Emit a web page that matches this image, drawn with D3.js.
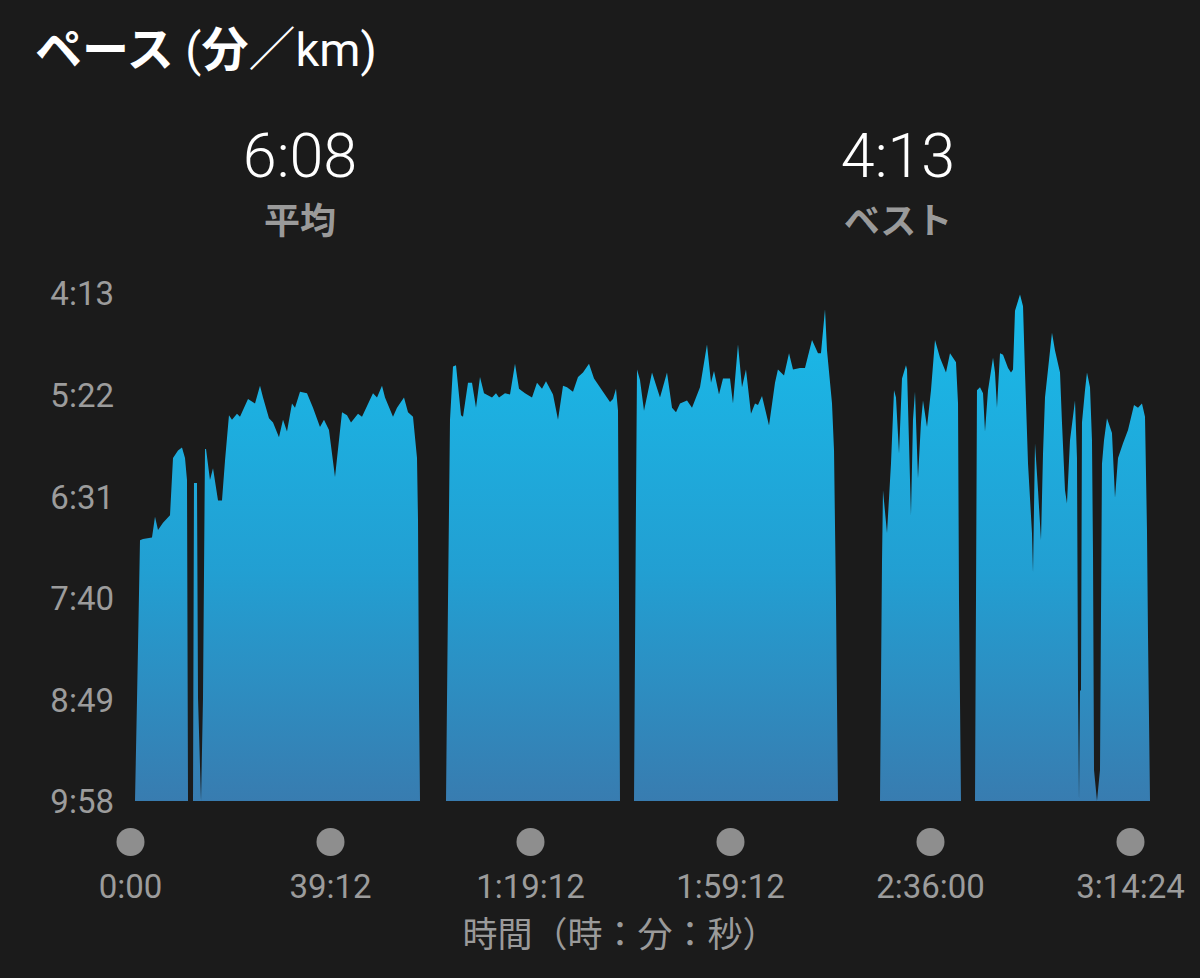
<!DOCTYPE html>
<html><head><meta charset="utf-8">
<script src="https://cdn.jsdelivr.net/npm/d3@7"></script>
<style>
html,body{margin:0;padding:0;background:#1b1b1b;}
svg{display:block;}
</style></head>
<body>
<script>
// ---- data ----
const timeTicks = [0, 39.2, 79.2, 119.2, 156, 194.4]; // minutes
const timeLabels = ["0:00", "39:12", "1:19:12", "1:59:12", "2:36:00", "3:14:24"];
const paceTicks = [253, 322, 391, 460, 529, 598]; // seconds per km
const paceLabels = ["4:13", "5:22", "6:31", "7:40", "8:49", "9:58"];
const statValues = ["6:08", "4:13"];
const statNames = ["平均", "ベスト"];

// [elapsed minutes, pace seconds/km]
const run1 = [[0.98,598],[1.37,530],[1.96,421],[2.55,420],[4.31,419],[4.9,405],[5.49,414],[6.47,409],[7.84,404],[8.43,365],[9.41,360],[10.19,358],[10.78,365],[11.17,380],[11.37,598],[12.35,598],[12.54,382],[13.13,382],[13.33,528],[13.92,598],[14.31,528],[14.7,359],[14.9,359],[15.68,380],[16.27,372],[17.25,394],[18.03,394],[18.62,367],[19.4,336],[19.99,339],[20.97,335],[21.56,337],[23.13,325],[24.5,328],[25.48,316],[26.07,324],[27.24,338],[28.03,341],[29.2,351],[29.99,339],[30.77,347],[31.75,328],[32.34,331],[33.32,320],[34.69,321],[35.87,331],[37.24,344],[38.02,339],[39.0,346],[40.2,378],[41.6,334],[42.6,336],[43.4,341],[44.8,335],[45.6,337],[47.8,321],[48.6,324],[49.6,316],[50.2,324],[51.8,337],[52.6,331],[54.0,324],[54.8,334],[55.8,337],[56.6,365],[56.8,407],[57.0,530],[57.2,598]];
const run2 = [[62.4,598],[62.8,462],[63.2,339],[63.8,303],[64.4,302],[65.4,336],[65.8,337],[66.8,314],[67.6,314],[68.4,331],[69.2,310],[70.0,321],[71.6,324],[72.4,321],[73.0,324],[74.2,321],[75.2,322],[76.2,301],[77.0,318],[78.2,321],[79.6,324],[80.6,314],[81.6,318],[82.4,313],[83.8,322],[84.8,339],[85.8,316],[86.6,317],[87.8,320],[88.8,310],[89.8,307],[91.0,301],[92.0,311],[93.8,320],[95.2,327],[95.8,325],[96.4,318],[96.8,333],[97.0,462],[97.2,598]];
const run3 = [[100.0,598],[100.4,394],[100.6,305],[101.2,312],[102.0,333],[103.6,307],[105.2,324],[106.6,307],[107.6,331],[108.4,334],[109.2,328],[110.6,326],[111.6,331],[113.2,317],[114.6,288],[115.4,314],[116.0,306],[117.0,322],[117.8,311],[119.2,311],[119.75,328],[120.67,288],[121.41,317],[122.14,305],[123.06,335],[123.8,328],[124.35,329],[125.09,323],[126.38,343],[127.48,314],[128.02,305],[129.14,309],[130.06,294],[130.79,305],[132.08,304],[133.0,304],[134.29,285],[135.39,294],[135.94,294],[136.68,264],[137.05,292],[137.97,328],[138.34,360],[138.7,462],[139.07,598]];
const run4 = [[146.8,598],[147.17,435],[147.35,387],[148.09,416],[148.82,369],[149.38,319],[149.74,324],[150.3,362],[150.85,311],[151.58,302],[151.77,305],[152.5,404],[152.87,339],[153.24,320],[153.79,379],[154.34,341],[154.71,326],[155.45,344],[156.19,319],[156.96,285],[157.92,297],[159.07,307],[159.84,294],[160.99,300],[161.38,328],[161.57,462],[161.95,598]];
const run5 = [[164.64,598],[164.83,462],[165.02,319],[165.6,317],[166.18,321],[166.56,347],[167.14,319],[168.1,297],[168.48,307],[168.86,331],[169.44,294],[170.02,295],[170.98,304],[171.55,307],[171.94,305],[172.32,265],[173.28,254],[173.86,262],[174.24,307],[174.82,369],[175.58,416],[175.78,443],[176.16,355],[176.74,387],[177.31,421],[177.7,362],[178.08,324],[178.66,305],[179.42,280],[180.0,292],[180.96,307],[181.34,341],[181.92,387],[182.3,396],[182.88,353],[183.84,326],[184.22,365],[184.42,523],[184.61,598],[184.8,523],[184.99,523],[185.18,341],[185.76,319],[186.14,307],[186.72,317],[187.1,353],[187.3,432],[187.49,577],[188.06,598],[188.64,577],[189.02,369],[189.41,353],[189.98,338],[190.94,348],[191.52,392],[192.1,365],[193.06,355],[194.02,346],[195.17,329],[195.94,331],[196.7,328],[197.28,337],[197.66,414],[197.86,487],[198.24,598]];
const runs = [run1, run2, run3, run4, run5];

// ---- drawing ----
const W = 1200, H = 978;
const svg = d3.select("body").append("svg").attr("width", W).attr("height", H)
  .style("background", "#1b1b1b");

const x = d3.scaleLinear().domain(timeTicks).range([130, 330, 530, 730, 930, 1130]);
const y = d3.scaleLinear().domain([253, 598]).range([293, 801]).clamp(true);

const defs = svg.append("defs");
const grad = defs.append("linearGradient").attr("id", "paceGrad")
  .attr("gradientUnits", "userSpaceOnUse")
  .attr("x1", 0).attr("x2", 0).attr("y1", y(253)).attr("y2", y(598));
grad.append("stop").attr("offset", "0%").attr("stop-color", "#19bbea");
grad.append("stop").attr("offset", "55%").attr("stop-color", "#229fd2");
grad.append("stop").attr("offset", "100%").attr("stop-color", "#387cb0");

const area = d3.area()
  .x(d => x(d[0]))
  .y0(y(598))
  .y1(d => y(d[1]));

svg.append("g").selectAll("path").data(runs).join("path")
  .attr("d", area).attr("fill", "url(#paceGrad)");

const FONT = "Roboto, 'Noto Sans CJK JP', sans-serif";

// title
const title = svg.append("text").attr("x", 35).attr("y", 66)
  .attr("font-family", FONT).attr("font-size", 47).attr("fill", "#ffffff");
title.append("tspan").attr("font-weight", 700).text("ペース");
title.append("tspan").attr("font-weight", 400).text(" (");
title.append("tspan").attr("font-weight", 700).text("分");
title.append("tspan").attr("font-weight", 400).text("／km)");

// stats
const statX = [300, 898];
statValues.forEach((v, i) => {
  svg.append("text").attr("x", statX[i]).attr("y", 177)
    .attr("text-anchor", "middle").attr("font-family", FONT)
    .attr("font-size", 61).attr("font-weight", 300).attr("fill", "#ffffff").text(v);
  svg.append("text").attr("x", statX[i]).attr("y", 234)
    .attr("text-anchor", "middle").attr("font-family", FONT)
    .attr("font-size", 36).attr("font-weight", 700).attr("fill", "#9a9a9a").text(statNames[i]);
});

// y axis
const yAxis = d3.axisLeft(y).tickValues(paceTicks)
  .tickFormat((d, i) => paceLabels[i]).tickSize(0).tickPadding(0);
const gy = svg.append("g").attr("transform", "translate(114,0)").call(yAxis);
gy.select(".domain").remove();
gy.selectAll("text").attr("font-family", FONT).attr("font-size", 33)
  .attr("fill", "#9c9c9c").attr("dy", "0.36em");

// x axis
const xAxis = d3.axisBottom(x).tickValues(timeTicks)
  .tickFormat((d, i) => timeLabels[i]).tickSize(0).tickPadding(0);
const gx = svg.append("g").attr("transform", "translate(0,842)").call(xAxis);
gx.select(".domain").remove();
gx.selectAll(".tick").append("circle").attr("r", 14).attr("cx", 0).attr("cy", 0).attr("fill", "#8e8e8e");
gx.selectAll("text").attr("font-family", FONT).attr("font-size", 33)
  .attr("fill", "#9c9c9c").attr("y", 44).attr("dy", "0.36em");

// x axis title
svg.append("text").attr("x", 620).attr("y", 947).attr("text-anchor", "middle")
  .attr("font-family", FONT).attr("font-size", 35).attr("fill", "#9a9a9a")
  .text("時間（時：分：秒）");
</script>
</body></html>
